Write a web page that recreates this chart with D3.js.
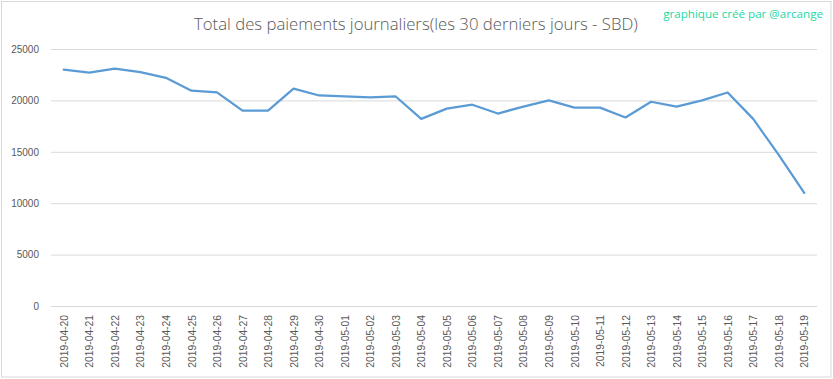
<!DOCTYPE html>
<html>
<head>
<meta charset="utf-8">
<script src="https://cdn.jsdelivr.net/npm/d3@7"></script>
<style>
  html, body { margin: 0; padding: 0; background: #fff; }
  svg { display: block; }
</style>
</head>
<body>
<svg id="chart" width="833" height="379"></svg>
<script>
const dates = ["2019-04-20","2019-04-21","2019-04-22","2019-04-23","2019-04-24","2019-04-25","2019-04-26","2019-04-27","2019-04-28","2019-04-29","2019-04-30","2019-05-01","2019-05-02","2019-05-03","2019-05-04","2019-05-05","2019-05-06","2019-05-07","2019-05-08","2019-05-09","2019-05-10","2019-05-11","2019-05-12","2019-05-13","2019-05-14","2019-05-15","2019-05-16","2019-05-17","2019-05-18","2019-05-19"];
const payments = [23000,22700,23100,22750,22200,20950,20780,19000,19000,21150,20480,20400,20300,20380,18200,19200,19580,18720,19400,20000,19300,19300,18340,19870,19400,20000,20770,18200,14700,11000];
const yTicks = [0,5000,10000,15000,20000,25000];
const titleText = "Total des paiements journaliers(les 30 derniers jours - SBD)";
const creditText = "graphique créé par @arcange";

const svg = d3.select("#chart");
const W = 833, H = 379;
const m = {left: 51, right: 16, top: 49, bottom: 73};

svg.append("rect").attr("x", 1.5).attr("y", 1.5).attr("width", W - 3.5).attr("height", H - 3.5)
  .attr("fill", "#fff").attr("stroke", "#d9d9d9").attr("stroke-width", 1);

const x = d3.scalePoint().domain(dates).range([m.left, W - m.right]).padding(0.5);
const y = d3.scaleLinear().domain([0, 25000]).range([H - m.bottom, m.top]);

// gridlines
const yAxis = svg.append("g").attr("transform", `translate(${m.left},0)`)
  .call(d3.axisLeft(y).tickValues(yTicks).tickSize(-(W - m.left - m.right)).tickPadding(12).tickFormat(d3.format("d")));
yAxis.select(".domain").remove();
yAxis.selectAll(".tick line").attr("stroke", "#d9d9d9").attr("stroke-width", 1);
yAxis.selectAll(".tick text").attr("fill", "#595959").style("font-family", "'Liberation Sans', Arial, sans-serif").style("font-size", "10px");

// x axis labels
const xAxis = svg.append("g").attr("transform", `translate(0,${H - m.bottom})`)
  .call(d3.axisBottom(x).tickSize(0).tickPadding(0));
xAxis.select(".domain").remove();
xAxis.selectAll(".tick text")
  .attr("fill", "#595959")
  .style("font-family", "'Liberation Sans', Arial, sans-serif").style("font-size", "10.3px")
  .attr("text-anchor", "end")
  .attr("transform", "translate(0,9) rotate(-90)")
  .attr("x", 0).attr("y", 0).attr("dy", "0.35em");

// line
const line = d3.line().x((d, i) => x(dates[i])).y(d => y(d));
svg.append("path").datum(payments)
  .attr("d", line)
  .attr("fill", "none")
  .attr("stroke", "#5b9bd5")
  .attr("stroke-width", 2.25)
  .attr("stroke-linejoin", "round")
  .attr("stroke-linecap", "round");

function fitText(sel, targetWidth, baseSize) {
  sel.style("font-size", baseSize + "px");
  const w = sel.node().getComputedTextLength();
  sel.style("font-size", (baseSize * targetWidth / w).toFixed(2) + "px");
}

// title
const title = svg.append("text").attr("x", 194).attr("y", 30)
  .attr("fill", "#595959")
  .style("font-family", "'Open Sans', sans-serif").style("font-weight", 300)
  .text(titleText);
fitText(title, 444, 18);

// credit
const credit = svg.append("text").attr("x", 823).attr("y", 18)
  .attr("text-anchor", "end")
  .attr("fill", "#19d9a6")
  .style("font-family", "'Open Sans', sans-serif")
  .text(creditText);
fitText(credit, 160, 11);
</script>
</body>
</html>
